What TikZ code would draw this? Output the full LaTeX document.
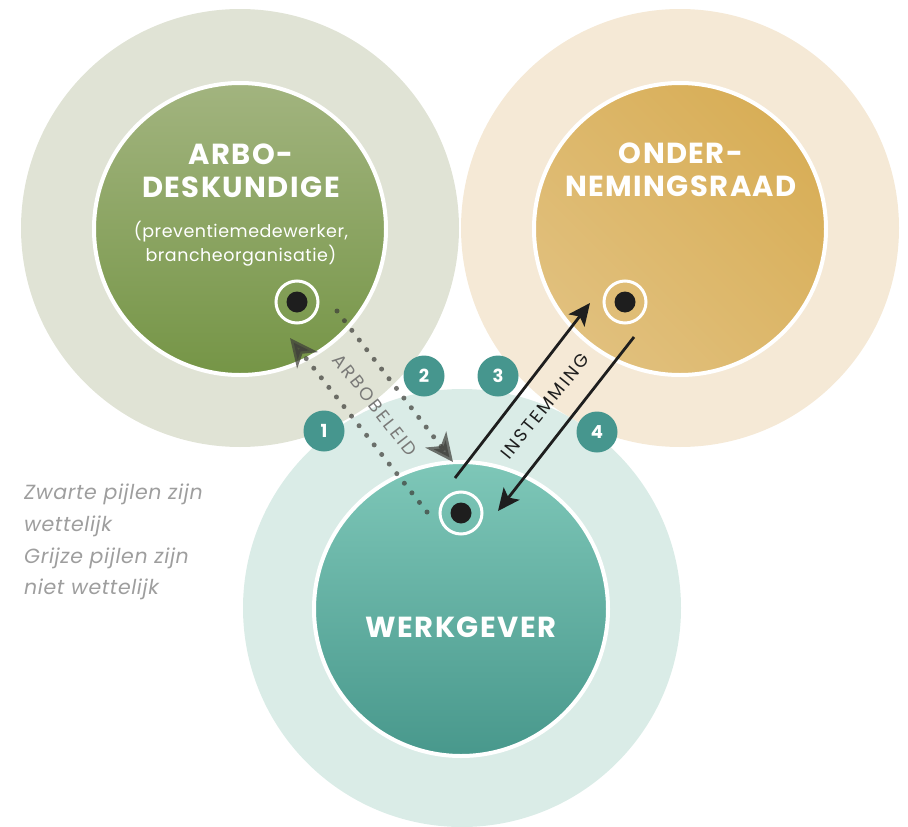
\documentclass[tikz,border=0pt]{standalone}
\usepackage{fontspec}
\setmainfont{Poppins}
\usetikzlibrary{arrows.meta,calc}
\definecolor{sageout}{HTML}{E0E3D5}
\definecolor{goldout}{HTML}{F5E9D6}
\definecolor{tealout}{HTML}{DAECE7}
\definecolor{greentop}{HTML}{A2B47F}
\definecolor{greenbot}{HTML}{759546}
\definecolor{goldlight}{HTML}{E1C07D}
\definecolor{golddark}{HTML}{D8AE57}
\definecolor{tealtop}{HTML}{7EC7B8}
\definecolor{tealbot}{HTML}{48988C}
\definecolor{numcol}{HTML}{46968E}
\definecolor{dotcol}{HTML}{1E1E1E}
\definecolor{grayarr}{HTML}{3F3F3A}
\definecolor{legend}{HTML}{9E9E9E}
\definecolor{arbotext}{HTML}{7A7A78}
\tikzset{
  innerborder/.style={draw=white, line width=4pt},
  ring/.style={circle, draw=white, line width=3pt, minimum size=42pt, inner sep=0pt},
  num/.style={circle, fill=numcol, minimum size=41pt, inner sep=0pt, text=white,
    font=\fontsize{18}{18}\selectfont\bfseries},
  title/.style={text=white, align=center, font=\fontsize{29}{33}\selectfont\bfseries\addfontfeature{LetterSpace=5}},
  subtitle/.style={text=white, align=center, font=\fontsize{17.5}{24}\selectfont\addfontfeature{LetterSpace=3}},
  grayline/.style={draw=grayarr, draw opacity=0.72, fill opacity=0.72, line width=5pt, line cap=round,
    dash pattern=on 0pt off 12.2pt,
    -{Stealth[length=28pt,width=26pt,inset=8pt,fill=grayarr]}},
  blackline/.style={draw=dotcol, line width=2.8pt,
    -{Stealth[length=22pt,width=20pt,inset=5pt]}},
  arrowlabel/.style={font=\fontsize{18}{18}\selectfont\addfontfeature{LetterSpace=13}},
}
\begin{document}
\begin{tikzpicture}[x=1pt,y=-1pt]
\useasboundingbox (0,0) rectangle (908,827);
% outer circles
\fill[sageout] (240,228) circle[radius=219pt];
\fill[goldout] (680,228) circle[radius=219pt];
\fill[tealout] (462,608) circle[radius=219pt];
% inner circles
\shade[top color=greentop, bottom color=greenbot] (240,229) circle[radius=146pt];
\draw[innerborder] (240,229) circle[radius=146pt];
\shade[top color=golddark, bottom color=goldlight, shading angle=-45] (680,229) circle[radius=146pt];
\draw[innerborder] (680,229) circle[radius=146pt];
\shade[top color=tealtop, bottom color=tealbot] (461,609) circle[radius=147pt];
\draw[innerborder] (461,609) circle[radius=147pt];
% titles
\node[title] (tA) at (241,171) {ARBO-\\DESKUNDIGE};
\node[subtitle] (sA) at (241,244) {(preventiemedewerker,\\brancheorganisatie)};
\node[title] (tO) at (681,170) {ONDER-\\NEMINGSRAAD};
\node[title] (tW) at (461,627) {WERKGEVER};
% markers
\node[ring] (mA) at (297,302) {};
\fill[dotcol] (mA) circle[radius=10.5pt];
\node[ring] (mO) at (625,302) {};
\fill[dotcol] (mO) circle[radius=10.5pt];
\node[ring] (mW) at (461,513) {};
\fill[dotcol] (mW) circle[radius=10.5pt];
% connector endpoints
\coordinate (g1s) at (427,512);
\coordinate (g1e) at (290,338);
\coordinate (g2s) at (337,311);
\coordinate (g2e) at (453,462);
\coordinate (b3s) at (455,478);
\coordinate (b3e) at (590,303);
\coordinate (b4s) at (634,337);
\coordinate (b4e) at (498,511);
% gray arrows
\draw[grayline] (g1s) -- (g1e);
\draw[grayline] (g2s) -- (g2e);
% black arrows
\draw[blackline] (b3s) -- (b3e);
\draw[blackline] (b4s) -- (b4e);
% arrow labels
\node[arrowlabel, text=arbotext, rotate=-52] (lA) at (375,405) {ARBOBELEID};
\node[arrowlabel, text=dotcol, rotate=51] (lI) at (545,406) {INSTEMMING};
% numbers
\node[num] (n1) at (324,431) {1};
\node[num] (n2) at (424,376) {2};
\node[num] (n3) at (498,376) {3};
\node[num] (n4) at (597,432) {4};
% legend
\node[anchor=north west, align=left, text=legend, inner sep=0pt,
  font=\fontsize{20.5}{31.7}\selectfont\itshape\addfontfeature{LetterSpace=3}] (leg) at (24,484)
  {Zwarte pijlen zijn\\wettelijk\\Grijze pijlen zijn\\niet wettelijk};
\end{tikzpicture}
\end{document}
